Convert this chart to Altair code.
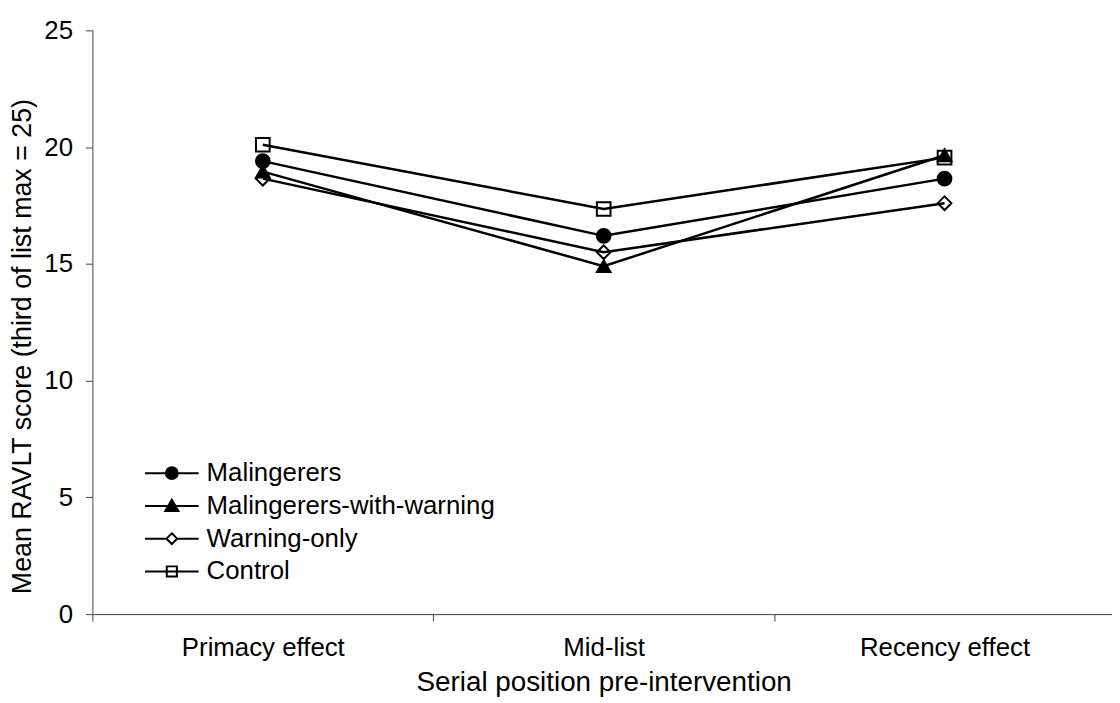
import altair as alt
import pandas as pd

positions = ["Primacy effect", "Mid-list", "Recency effect"]
groups = ["Malingerers", "Malingerers-with-warning", "Warning-only", "Control"]
malingerers = [19.4, 16.2, 18.65]
malingerers_with_warning = [18.95, 14.9, 19.65]
warning_only = [18.65, 15.5, 17.6]
control = [20.1, 17.35, 19.55]
y_ticks = [0, 5, 10, 15, 20, 25]

marker_shapes = ["circle", "triangle-up", "diamond", "square"]
marker_fills = ["black", "black", "transparent", "transparent"]
marker_strokes = ["black", "black", "black", "black"]
legend_shapes = [
    "M-1,0A1,1 0 1,1 1,0A1,1 0 1,1 -1,0Z M-4.5,0L-1,0 M1,0L4.5,0",
    "M0,-1.05L1.1,0.85L-1.1,0.85Z M-4.5,0L-0.6,0 M0.6,0L4.5,0",
    "M0,-0.9L0.9,0L0,0.9L-0.9,0Z M-4.5,0L-0.9,0 M0.9,0L4.5,0",
    "M-0.85,-0.85L0.85,-0.85L0.85,0.85L-0.85,0.85Z M-4.5,0L4.5,0",
]

series = [malingerers, malingerers_with_warning, warning_only, control]
rows = []
for g, vals in zip(groups, series):
    for p, v in zip(positions, vals):
        rows.append({"position": p, "group": g, "score": v})
df = pd.DataFrame(rows)

FONT = "Liberation Sans"

x = alt.X(
    "position:N",
    sort=positions,
    bandPosition=0.5,
    scale=alt.Scale(type="band", domain=positions, range=[0, 1030],
                    paddingInner=0, paddingOuter=0),
    axis=alt.Axis(
        title="Serial position pre-intervention",
        tickBand="extent",
        labelAngle=0,
        tickSize=7,
        labelPadding=14,
        labelFontSize=26,
        titleFontSize=28,
        titlePadding=8,
        titleFontWeight="normal",
        labelFont=FONT,
        titleFont=FONT,
        labelColor="black",
        titleColor="black",
        domainColor="#444",
        tickColor="#444",
        grid=False,
    ),
)
y = alt.Y(
    "score:Q",
    scale=alt.Scale(domain=[0, 25], nice=False, zero=True),
    axis=alt.Axis(
        title="Mean RAVLT score (third of list max = 25)",
        values=y_ticks,
        tickSize=7,
        labelPadding=13,
        labelFontSize=26,
        titleFontSize=27,
        titleX=-62,
        titleY=318,
        titleBaseline="alphabetic",
        titleFontWeight="normal",
        labelFont=FONT,
        titleFont=FONT,
        labelColor="black",
        titleColor="black",
        domainColor="#444",
        tickColor="#444",
        grid=False,
    ),
)

lines = alt.Chart(df).mark_line(color="black", strokeWidth=2.5).encode(
    x=x, y=y, detail="group:N"
)

points = alt.Chart(df).mark_point(opacity=1, stroke="black", strokeWidth=2, size=190).encode(
    x=x,
    y=y,
    shape=alt.Shape("group:N", scale=alt.Scale(domain=groups, range=marker_shapes), legend=None),
    fill=alt.Fill("group:N", scale=alt.Scale(domain=groups, range=marker_fills), legend=None),
)

legend_def = alt.Legend(
    title=None,
    orient="none",
    legendX=67,
    legendY=433,
    labelFontSize=26,
    labelFont=FONT,
    labelColor="black",
    labelOffset=22,
    labelLimit=0,
    rowPadding=7,
    padding=0,
    symbolSize=144,
    symbolStrokeWidth=2,
)

legend_layer = alt.Chart(df).transform_filter("datum.score < 0").mark_point(
    opacity=1, strokeWidth=2
).encode(
    x=x,
    y=y,
    size=alt.value(144),
    shape=alt.Shape("group:N", scale=alt.Scale(domain=groups, range=legend_shapes), legend=legend_def),
    fill=alt.Fill("group:N", scale=alt.Scale(domain=groups, range=marker_fills), legend=legend_def),
    stroke=alt.Stroke("group:N", scale=alt.Scale(domain=groups, range=marker_strokes), legend=legend_def),
)

chart = (
    alt.layer(lines, points, legend_layer)
    .resolve_scale(shape="independent", fill="independent", stroke="independent")
    .resolve_legend(shape="independent", fill="independent", stroke="independent")
    .properties(
        width=1019,
        height=588,
        padding={"left": 85, "top": 20, "right": 8, "bottom": 86},
        autosize=alt.AutoSizeParams(type="none"),
        background="white",
    )
    .configure_view(stroke=None)
)

chart.save("out.html", embed_options={"renderer": "svg", "actions": False})
